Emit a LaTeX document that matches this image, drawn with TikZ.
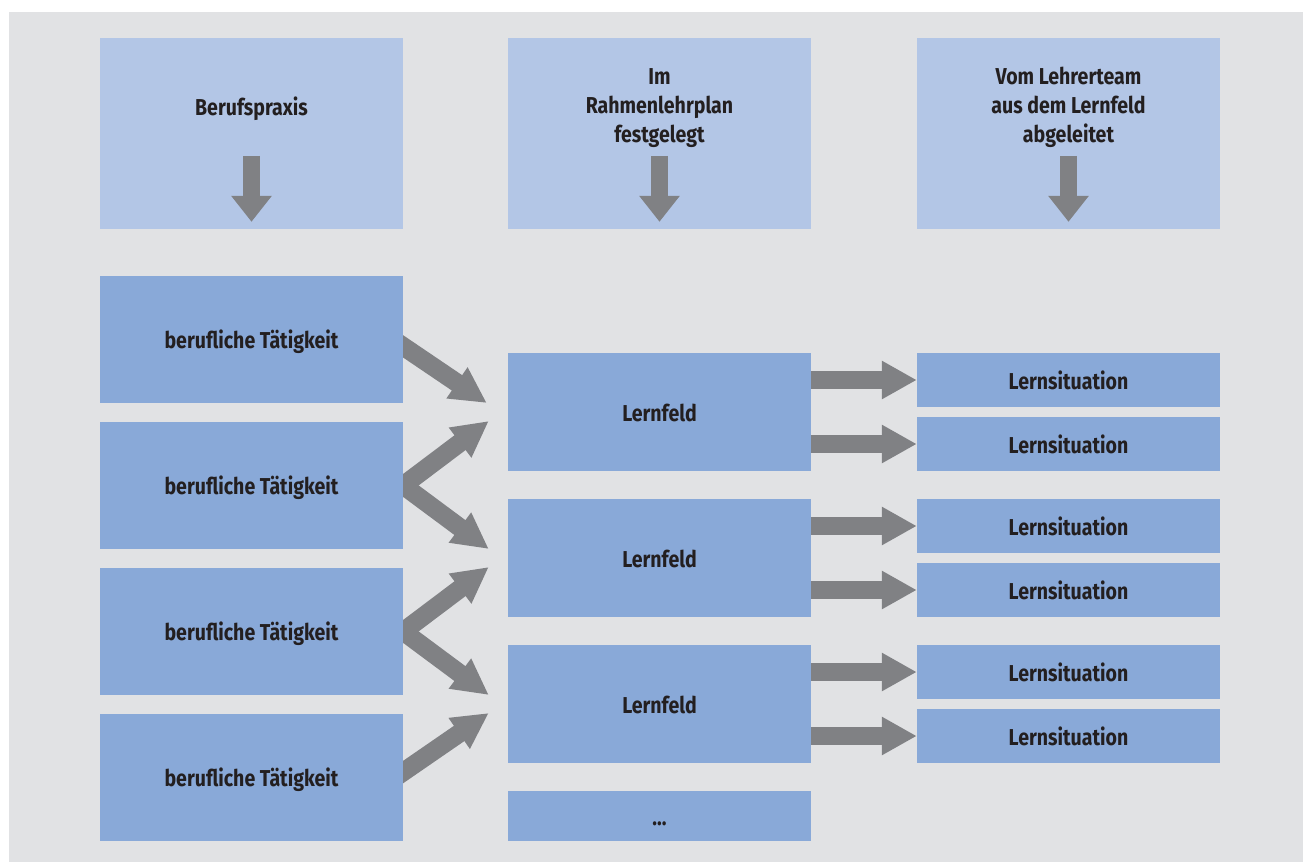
\documentclass[tikz,border=0pt]{standalone}
\usepackage{fontspec}
\setmainfont{Fira Sans}[FakeStretch=0.85]
\usetikzlibrary{arrows.meta,calc}
\definecolor{pagebg}{HTML}{E1E2E4}
\definecolor{headblue}{HTML}{B3C6E6}
\definecolor{boxblue}{HTML}{89A9D8}
\definecolor{arrowgrey}{HTML}{808184}
\definecolor{ink}{HTML}{231F20}
\pgfdeclarelayer{backdrop}
\pgfdeclarelayer{arrowlayer}
\pgfsetlayers{backdrop,arrowlayer,main}
\tikzset{
  base text/.style={font=\fontsize{23}{29}\selectfont\bfseries, text=ink, align=center,
    inner sep=0pt},
  label text/.style={base text, text height=18pt, text depth=0pt},
  head text/.style={base text, anchor=north},
  headbox/.style={fill=headblue, minimum width=303pt, minimum height=191pt, inner sep=0pt},
  workbox/.style={fill=boxblue, minimum width=303pt, minimum height=127pt, label text},
  fieldbox/.style={fill=boxblue, minimum width=303pt, minimum height=118pt, label text},
  situbox/.style={fill=boxblue, minimum width=303pt, minimum height=54pt, label text},
  morebox/.style={fill=boxblue, minimum width=303pt, minimum height=50pt, label text},
  downarrow/.style={draw=arrowgrey, line width=17pt,
    -{Triangle[length=26pt,width=39pt]}},
  rightarrow/.style={draw=arrowgrey, line width=18.5pt,
    -{Triangle[length=35pt,width=36pt]}},
  slantarrow/.style={draw=arrowgrey, line width=18.5pt,
    -{Triangle[length=36pt,width=35pt]}},
}
\begin{document}
\begin{tikzpicture}[x=1pt,y=-1pt]
\useasboundingbox (0,0) rectangle (1303,862);
\begin{pgfonlayer}{backdrop}
  \fill[pagebg] (9,12) rectangle (1303,862);
\end{pgfonlayer}

% column headings
\node[headbox] (h1) at (251.5,133.5) {};
\node[headbox] (h2) at (659.5,133.5) {};
\node[headbox] (h3) at (1068.5,133.5) {};
\node[head text] (h1t) at (251.5,97) {Berufspraxis};
\node[head text] (h2t) at (659.5,68) {Im\\Rahmenlehrplan\\festgelegt};
\node[head text] (h3t) at (1068.5,67) {Vom Lehrerteam\\aus dem Lernfeld\\abgeleitet};
\foreach \h in {h1,h2,h3}{
  \coordinate (\h top) at ($(\h.north)+(0,118)$);
  \coordinate (\h tip) at ($(\h.north)+(0,184)$);
  \draw[downarrow] (\h top) -- (\h tip);
}

% professional activities
\node[workbox] (w1) at (251.5,339.5) {berufliche Tätigkeit};
\node[workbox] (w2) at (251.5,485.5) {berufliche Tätigkeit};
\node[workbox] (w3) at (251.5,631.5) {berufliche Tätigkeit};
\node[workbox] (w4) at (251.5,777.5) {berufliche Tätigkeit};

% learning fields
\node[fieldbox] (f1) at (659.5,412) {Lernfeld};
\node[fieldbox] (f2) at (659.5,558) {Lernfeld};
\node[fieldbox] (f3) at (659.5,704) {Lernfeld};
\node[morebox] (f4) at (659.5,816) {…};

% learning situations
\node[situbox] (s1) at (1068.5,380) {Lernsituation};
\node[situbox] (s2) at (1068.5,444) {Lernsituation};
\node[situbox] (s3) at (1068.5,526) {Lernsituation};
\node[situbox] (s4) at (1068.5,590) {Lernsituation};
\node[situbox] (s5) at (1068.5,672) {Lernsituation};
\node[situbox] (s6) at (1068.5,736) {Lernsituation};

% activities feed the learning fields
\begin{pgfonlayer}{arrowlayer}
  \draw[slantarrow] ($(w1.east)+(-8,1.5)$) -- ($(f1.west)+(-21,-9)$);
  \draw[slantarrow] ($(w2.east)+(-8,6)$) -- ($(f1.west)+(-19,9)$);
  \draw[slantarrow] ($(w2.east)+(-8,-6)$) -- ($(f2.west)+(-19,-9)$);
  \draw[slantarrow] ($(w3.east)+(-8,6)$) -- ($(f2.west)+(-19,9)$);
  \draw[slantarrow] ($(w3.east)+(-8,-6)$) -- ($(f3.west)+(-19,-9)$);
  \draw[slantarrow] ($(w4.east)+(-8,0)$) -- ($(f3.west)+(-19,9)$);
\end{pgfonlayer}

% learning fields split into learning situations
\draw[rightarrow] (f1.east |- s1.west) -- (s1.west);
\draw[rightarrow] (f1.east |- s2.west) -- (s2.west);
\draw[rightarrow] (f2.east |- s3.west) -- (s3.west);
\draw[rightarrow] (f2.east |- s4.west) -- (s4.west);
\draw[rightarrow] (f3.east |- s5.west) -- (s5.west);
\draw[rightarrow] (f3.east |- s6.west) -- (s6.west);
\end{tikzpicture}
\end{document}
